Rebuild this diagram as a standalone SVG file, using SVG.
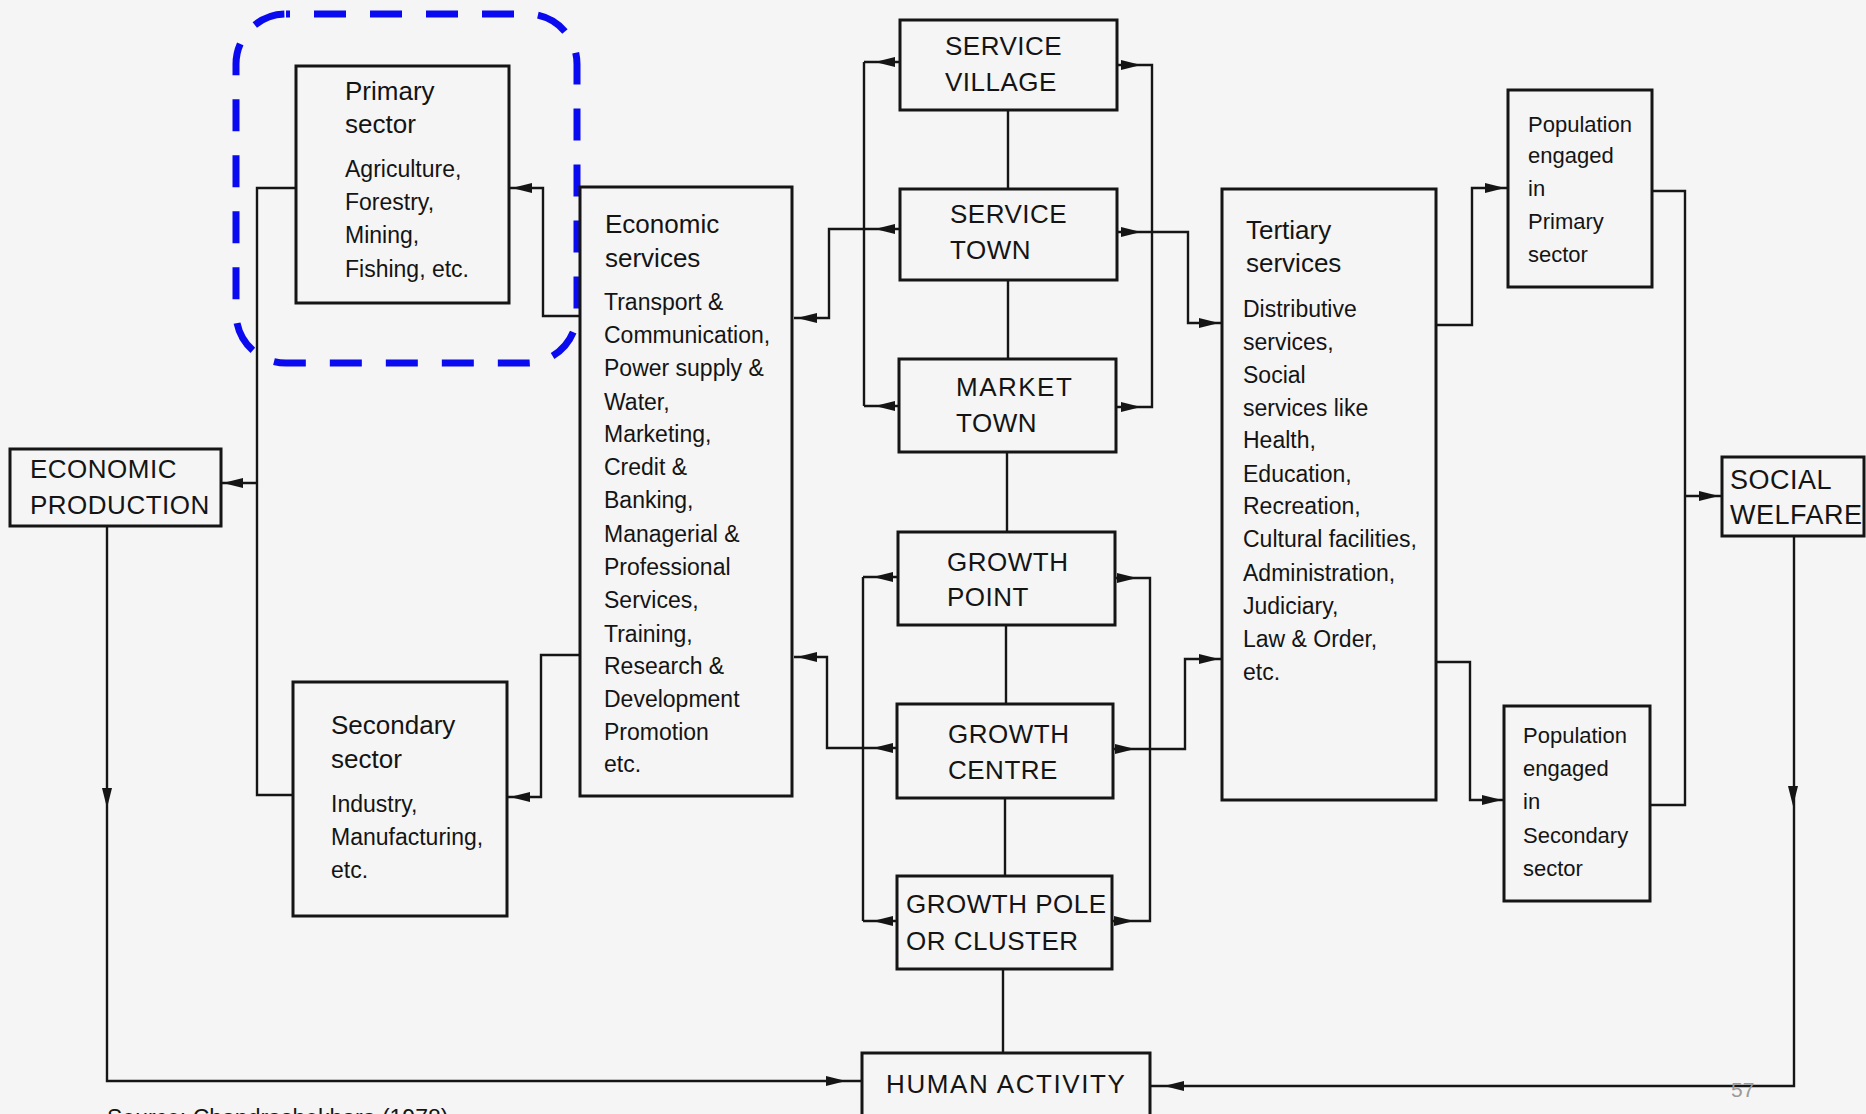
<svg xmlns="http://www.w3.org/2000/svg" width="1866" height="1114" viewBox="0 0 1866 1114">
  <defs>
    <style>
      .bg { fill: #f5f5f5; }
      .box { fill: none; stroke: #151515; stroke-width: 3; }
      .ln { fill: none; stroke: #151515; stroke-width: 2.4; }
      .hl { fill: none; stroke: #0a0af0; stroke-width: 7; stroke-dasharray: 32 24; stroke-dashoffset: 28; }
      text { font-family: "Liberation Sans", Arial, sans-serif; fill: #141414; }
      .h { font-size: 26px; }
      .b { font-size: 23px; }
      .p { font-size: 22px; }
      .cap { font-size: 26px; letter-spacing: 0.5px; }
      .pg { font-size: 21px; fill: #9a9a9a; }
    </style>
    <!-- arrowhead, tip at the origin, pointing along +x -->
    <path id="ah" d="M0,0 L-20,-5 L-20,5 Z" fill="#151515"/>
  </defs>

  <rect class="bg" x="0" y="0" width="1866" height="1114"/>

  <!-- highlight around the primary sector -->
  <rect class="hl" x="236" y="14" width="341" height="349" rx="50" ry="50"/>

  <g id="connectors">
    <!-- left side: sectors to economic production -->
    <path class="ln" d="M296,188 H257 V795 H292"/>
    <path class="ln" d="M257,483 H221"/>
    <path class="ln" d="M579,316 H543 V188 H509"/>
    <path class="ln" d="M579,655 H541 V797 H507"/>
    <path class="ln" d="M107,527 V1081 H862"/>

    <!-- settlement hierarchy to economic services -->
    <path class="ln" d="M794,318 H829 V229 H900"/>
    <path class="ln" d="M864,62 V406 M864,62 H900 M864,406 H900"/>
    <path class="ln" d="M794,657 H827 V748 H898"/>
    <path class="ln" d="M863,577 V921 M863,577 H898 M863,921 H897"/>

    <!-- settlement hierarchy to tertiary services -->
    <path class="ln" d="M1116,65 H1152 V407 H1116"/>
    <path class="ln" d="M1116,232 H1188 V323 H1222"/>
    <path class="ln" d="M1115,578 H1150 V921 H1112"/>
    <path class="ln" d="M1113,749 H1185 V659 H1222"/>

    <!-- central spine -->
    <path class="ln" d="M1008,110 V189 M1008,280 V359 M1007,452 V532 M1006,625 V704 M1005,798 V876 M1003,969 V1053"/>

    <!-- right side: tertiary to population to social welfare -->
    <path class="ln" d="M1436,325 H1472 V188 H1508"/>
    <path class="ln" d="M1435,662 H1470 V800 H1504"/>
    <path class="ln" d="M1652,191 H1685 V805 H1650"/>
    <path class="ln" d="M1685,496 H1722"/>
    <path class="ln" d="M1794,536 V1086 H1150"/>

    <!-- arrowheads -->
    <use href="#ah" transform="translate(223,483) rotate(180)"/>
    <use href="#ah" transform="translate(512,188) rotate(180)"/>
    <use href="#ah" transform="translate(510,797) rotate(180)"/>
    <use href="#ah" transform="translate(797,318) rotate(180)"/>
    <use href="#ah" transform="translate(797,657) rotate(180)"/>
    <use href="#ah" transform="translate(107,808) rotate(90)"/>
    <use href="#ah" transform="translate(846,1081)"/>

    <use href="#ah" transform="translate(875,62) rotate(180)"/>
    <use href="#ah" transform="translate(875,229) rotate(180)"/>
    <use href="#ah" transform="translate(875,406) rotate(180)"/>
    <use href="#ah" transform="translate(873,577) rotate(180)"/>
    <use href="#ah" transform="translate(873,748) rotate(180)"/>
    <use href="#ah" transform="translate(873,921) rotate(180)"/>

    <use href="#ah" transform="translate(1141,65)"/>
    <use href="#ah" transform="translate(1141,232)"/>
    <use href="#ah" transform="translate(1141,407)"/>
    <use href="#ah" transform="translate(1137,578)"/>
    <use href="#ah" transform="translate(1135,749)"/>
    <use href="#ah" transform="translate(1134,921)"/>

    <use href="#ah" transform="translate(1219,323)"/>
    <use href="#ah" transform="translate(1219,659)"/>
    <use href="#ah" transform="translate(1505,188)"/>
    <use href="#ah" transform="translate(1502,800)"/>
    <use href="#ah" transform="translate(1719,496)"/>
    <use href="#ah" transform="translate(1793,806) rotate(90)"/>
    <use href="#ah" transform="translate(1164,1086) rotate(180)"/>
  </g>

  <g id="economic-production">
    <rect class="box" x="10" y="449" width="211" height="77"/>
    <text class="cap" x="30" y="478">ECONOMIC</text>
    <text class="cap" x="30" y="514">PRODUCTION</text>
  </g>

  <g id="primary-sector">
    <rect class="box" x="296" y="66" width="213" height="237"/>
    <text class="h" x="345" y="100">Primary</text>
    <text class="h" x="345" y="133">sector</text>
    <text class="b" x="345" y="177">Agriculture,</text>
    <text class="b" x="345" y="210">Forestry,</text>
    <text class="b" x="345" y="243">Mining,</text>
    <text class="b" x="345" y="277">Fishing, etc.</text>
  </g>

  <g id="secondary-sector">
    <rect class="box" x="293" y="682" width="214" height="234"/>
    <text class="h" x="331" y="734">Secondary</text>
    <text class="h" x="331" y="768">sector</text>
    <text class="b" x="331" y="812">Industry,</text>
    <text class="b" x="331" y="845">Manufacturing,</text>
    <text class="b" x="331" y="878">etc.</text>
  </g>

  <g id="economic-services">
    <rect class="box" x="580" y="187" width="212" height="609"/>
    <text class="h" x="605" y="233">Economic</text>
    <text class="h" x="605" y="267">services</text>
    <text class="b" x="604" y="310">Transport &amp;</text>
    <text class="b" x="604" y="343">Communication,</text>
    <text class="b" x="604" y="376">Power supply &amp;</text>
    <text class="b" x="604" y="410">Water,</text>
    <text class="b" x="604" y="442">Marketing,</text>
    <text class="b" x="604" y="475">Credit &amp;</text>
    <text class="b" x="604" y="508">Banking,</text>
    <text class="b" x="604" y="542">Managerial &amp;</text>
    <text class="b" x="604" y="575">Professional</text>
    <text class="b" x="604" y="608">Services,</text>
    <text class="b" x="604" y="642">Training,</text>
    <text class="b" x="604" y="674">Research &amp;</text>
    <text class="b" x="604" y="707">Development</text>
    <text class="b" x="604" y="740">Promotion</text>
    <text class="b" x="604" y="772">etc.</text>
  </g>

  <g id="service-village">
    <rect class="box" x="900" y="20" width="217" height="90"/>
    <text class="cap" x="945" y="55">SERVICE</text>
    <text class="cap" x="945" y="91">VILLAGE</text>
  </g>

  <g id="service-town">
    <rect class="box" x="900" y="189" width="217" height="91"/>
    <text class="cap" x="950" y="223">SERVICE</text>
    <text class="cap" x="950" y="259">TOWN</text>
  </g>

  <g id="market-town">
    <rect class="box" x="899" y="359" width="217" height="93"/>
    <text class="cap" x="956" y="396" style="letter-spacing:1.5px">MARKET</text>
    <text class="cap" x="956" y="432">TOWN</text>
  </g>

  <g id="growth-point">
    <rect class="box" x="898" y="532" width="217" height="93"/>
    <text class="cap" x="947" y="571">GROWTH</text>
    <text class="cap" x="947" y="606">POINT</text>
  </g>

  <g id="growth-centre">
    <rect class="box" x="897" y="704" width="216" height="94"/>
    <text class="cap" x="948" y="743">GROWTH</text>
    <text class="cap" x="948" y="779">CENTRE</text>
  </g>

  <g id="growth-pole">
    <rect class="box" x="897" y="876" width="215" height="93"/>
    <text class="cap" x="906" y="913">GROWTH POLE</text>
    <text class="cap" x="906" y="950">OR CLUSTER</text>
  </g>

  <g id="human-activity">
    <rect class="box" x="862" y="1053" width="288" height="70"/>
    <text class="cap" x="886" y="1093" style="letter-spacing:1.6px">HUMAN ACTIVITY</text>
  </g>

  <g id="tertiary-services">
    <rect class="box" x="1222" y="189" width="214" height="611"/>
    <text class="h" x="1246" y="239">Tertiary</text>
    <text class="h" x="1246" y="272">services</text>
    <text class="b" x="1243" y="317">Distributive</text>
    <text class="b" x="1243" y="350">services,</text>
    <text class="b" x="1243" y="383">Social</text>
    <text class="b" x="1243" y="416">services like</text>
    <text class="b" x="1243" y="448">Health,</text>
    <text class="b" x="1243" y="482">Education,</text>
    <text class="b" x="1243" y="514">Recreation,</text>
    <text class="b" x="1243" y="547">Cultural facilities,</text>
    <text class="b" x="1243" y="581">Administration,</text>
    <text class="b" x="1243" y="614">Judiciary,</text>
    <text class="b" x="1243" y="647">Law &amp; Order,</text>
    <text class="b" x="1243" y="680">etc.</text>
  </g>

  <g id="population-primary">
    <rect class="box" x="1508" y="90" width="144" height="197"/>
    <text class="p" x="1528" y="132">Population</text>
    <text class="p" x="1528" y="163">engaged</text>
    <text class="p" x="1528" y="196">in</text>
    <text class="p" x="1528" y="229">Primary</text>
    <text class="p" x="1528" y="262">sector</text>
  </g>

  <g id="population-secondary">
    <rect class="box" x="1504" y="706" width="146" height="195"/>
    <text class="p" x="1523" y="743">Population</text>
    <text class="p" x="1523" y="776">engaged</text>
    <text class="p" x="1523" y="809">in</text>
    <text class="p" x="1523" y="843">Secondary</text>
    <text class="p" x="1523" y="876">sector</text>
  </g>

  <g id="social-welfare">
    <rect class="box" x="1722" y="457" width="142" height="79"/>
    <text class="cap" x="1730" y="489" style="font-size:27px">SOCIAL</text>
    <text class="cap" x="1730" y="524" style="font-size:27px">WELFARE</text>
  </g>

  <text class="b" x="107" y="1126">Source: Chandrashekhara (1978)</text>
  <text class="pg" x="1731" y="1097">57</text>
</svg>
